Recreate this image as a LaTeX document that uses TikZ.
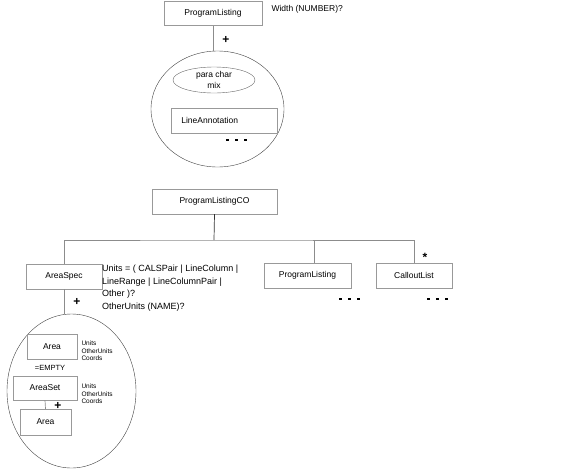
\documentclass[tikz,border=0pt]{standalone}
\usepackage{fontspec}
\setmainfont{Liberation Sans}
\usetikzlibrary{shapes.geometric}

\begin{document}
\begin{tikzpicture}[
    x = 1pt,
    y = -1pt,
    font = \fontsize{8.5}{10}\selectfont,
    box/.style = {
      draw = black!40,
      rectangle,
      inner sep = 0pt
    },
    group/.style = {
      draw = black!75,
      ellipse,
      inner sep = 0pt
    },
    conn/.style = {draw = black!45, line width = .7pt},
    small/.style = {font = \fontsize{6.5}{7.5}\selectfont, align = left, anchor = west},
    plus/.style = {font = \bfseries\fontsize{12}{12}\selectfont}
  ]
\useasboundingbox (0,0) rectangle (562,469);

% top group
\node[box, minimum width = 98pt, minimum height = 24pt] (pl) at (213,13.5) {ProgramListing};
\node[anchor = west] (plattr) at (268,9) {Width (NUMBER)?};
\node[group, minimum width = 133pt, minimum height = 116pt] (circA) at (217.5,109) {};
\node[group, draw = black!60, minimum width = 82pt, minimum height = 26pt, align = center,
      font = \fontsize{8.5}{11}\selectfont] (mix) at (214,80) {para char\\mix};
\node[box, minimum width = 106pt, minimum height = 25pt] (la) at (224,120.5) {};
\node[anchor = west] (latext) at (la.west) {\hspace{7pt}LineAnnotation};
\node[plus] (plusA) at (226,40) {+};
\draw[conn] (pl.south) -- (pl.south |- circA.north);

% second tree
\node[box, minimum width = 125pt, minimum height = 25pt] (plco) at (214.5,201.5) {ProgramListingCO};
\node[box, minimum width = 76pt, minimum height = 25pt] (as) at (64,276.5) {AreaSpec};
\node[box, minimum width = 87pt, minimum height = 25pt] (pl2) at (307.5,275.5) {ProgramListing};
\node[box, minimum width = 76pt, minimum height = 25pt] (cl) at (414,275.5) {CalloutList};
\coordinate (bus) at (214,240);

\draw[line width = .7pt, black!80] (plco.south) -- (bus);
\draw[conn] (as.north) |- (bus) -| (cl.north);
\draw[conn] ([xshift = 7pt]pl2.north) -- ([xshift = 7pt]pl2.north |- bus);

\node[plus] (star) at (425,257) {*};
\node[anchor = north west, align = left, inner sep = 0pt,
      font = \fontsize{9}{12.3}\selectfont] (asattr) at (102,265)
  {Units = ( CALSPair | LineColumn |\\LineRange | LineColumnPair |\\Other )?\\[0.5pt]OtherUnits (NAME)?};
\node[plus] (plusB) at (77,302) {+};

% area group
\node[group, minimum width = 129pt, minimum height = 154pt] (circB) at (71.5,391) {};
\draw[conn] (as.south) -- (as.south |- circB.north);

\node[box, minimum width = 50pt, minimum height = 25pt] (area) at (52,346.5) {Area};
\node[small] (areaattr) at (78,351) {Units\\OtherUnits\\Coords};
\node (empty) at (50,368) {\fontsize{7.5}{8}\selectfont =EMPTY};
\node[box, minimum width = 64pt, minimum height = 24pt] (areaset) at (45,388) {AreaSet};
\node[small] (setattr) at (78,394) {Units\\OtherUnits\\Coords};
\node[box, minimum width = 51pt, minimum height = 26pt] (area2) at (45.5,422) {Area};
\node[plus] (plusC) at (58,406) {+};
\draw[conn] (areaset.south) -- (area2.north);

% dots
\foreach \x/\y in {227/140, 236/140, 245/140, 340/299, 349/299, 358/299, 428/299, 437/299, 446/299}
  \fill (\x-1.5,\y-1) rectangle (\x+1.5,\y+1);

\end{tikzpicture}
\end{document}
